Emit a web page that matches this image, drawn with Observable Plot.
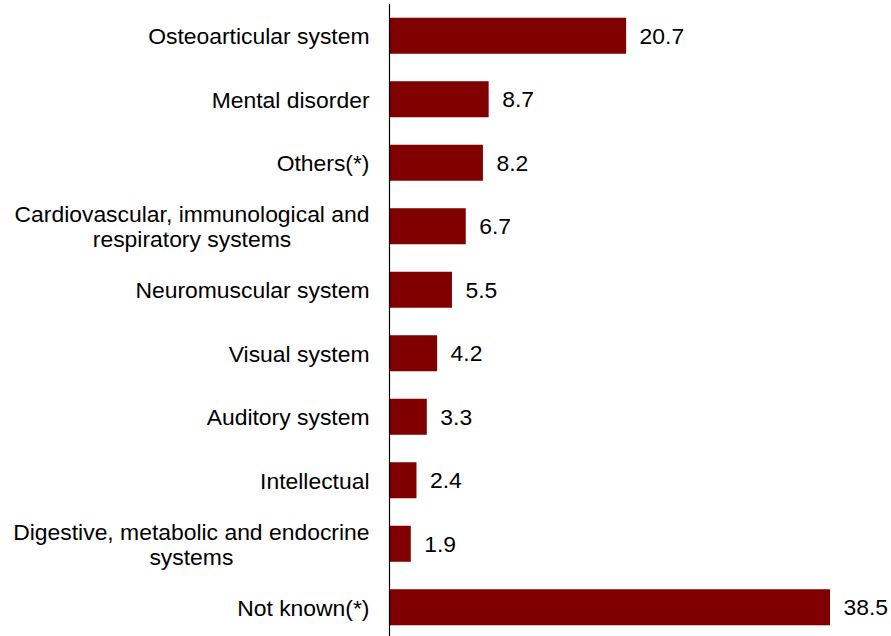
<!DOCTYPE html>
<html>
<head>
<meta charset="utf-8">
<script src="https://cdn.jsdelivr.net/npm/d3@7"></script>
<script src="https://cdn.jsdelivr.net/npm/@observablehq/plot@0.6"></script>
<style>
  html, body { margin: 0; padding: 0; background: #fff; }
  #chart svg { display: block; font-family: "Liberation Sans", Arial, sans-serif; }
</style>
</head>
<body>
<div id="chart"></div>
<script>
const categories = [
  "Osteoarticular system",
  "Mental disorder",
  "Others(*)",
  "Cardiovascular, immunological and\nrespiratory systems",
  "Neuromuscular system",
  "Visual system",
  "Auditory system",
  "Intellectual",
  "Digestive, metabolic and endocrine\nsystems",
  "Not known(*)"
];
const values = [20.7, 8.7, 8.2, 6.7, 5.5, 4.2, 3.3, 2.4, 1.9, 38.5];

const data = categories.map((c, i) => ({category: c, value: values[i]}));

const FS = 22.9;

const plot = Plot.plot({
  width: 891,
  height: 636,
  marginLeft: 389,
  marginRight: 43.8,
  marginTop: 7,
  marginBottom: 0,
  style: {fontFamily: "'Liberation Sans', Arial, sans-serif", fontSize: FS + "px", color: "#000", background: "#fff"},
  x: {domain: [0, 40], axis: null},
  y: {domain: categories, paddingInner: 0.433, paddingOuter: 0.169, round: false, label: null},
  marks: [
    Plot.barX(data, {x: "value", y: "category", fill: "#800000"}),
    Plot.text(data, {x: "value", y: "category", text: d => d.value.toFixed(1), dx: 13, textAnchor: "start", fontSize: FS, fill: "#000"}),
    Plot.ruleX([0], {stroke: "#000", strokeWidth: 1.2, insetTop: -3}),
    Plot.axisY({tickSize: 0, tickPadding: 20, fontSize: FS, lineHeight: 1.1, label: null, fill: "#000"})
  ]
});

document.getElementById("chart").appendChild(plot);

// Center multi-line tick labels (lines centered on each other, block right-aligned)
const svg = d3.select(plot);
svg.selectAll("g[aria-label='y-axis tick label'] text").each(function() {
  const tspans = d3.select(this).selectAll("tspan");
  if (tspans.size() > 1) {
    let maxW = 0;
    tspans.each(function() { maxW = Math.max(maxW, this.getComputedTextLength()); });
    d3.select(this).attr("text-anchor", "middle");
    tspans.attr("x", -maxW / 2);
  }
});
</script>
</body>
</html>
